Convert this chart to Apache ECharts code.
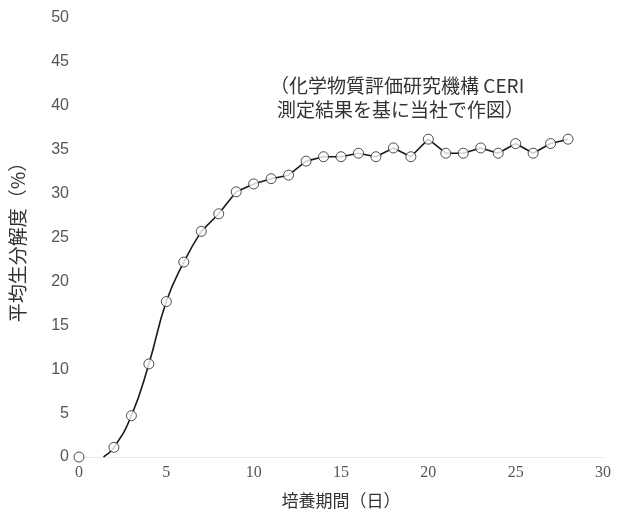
<!DOCTYPE html>
<html><head><meta charset="utf-8">
<script src="https://cdn.jsdelivr.net/npm/echarts@6/dist/echarts.min.js"></script>
<style>html,body{margin:0;padding:0;background:#fff}#c{width:630px;height:515px}</style>
</head><body><div id="c"></div>
<script>
// Data
const days = [0,1,2,3,4,5,6,7,8,9,10,11,12,13,14,15,16,17,18,19,20,21,22,23,24,25,26,27,28];
const measured = [0,null,1.1,4.7,10.6,17.7,22.2,25.7,27.7,30.2,31.1,31.7,32.1,33.7,34.2,34.2,34.6,34.2,35.2,34.2,36.2,34.6,34.6,35.2,34.6,35.7,34.6,35.7,36.2];
// fitted lag-phase curve start (day, %)
const curveStart = [1.4, 0];
const xTicks = [0,5,10,15,20,25,30];
const yTicks = [0,5,10,15,20,25,30,35,40,45,50];
const note = ['（化学物質評価研究機構 CERI', '測定結果を基に当社で作図）'];
const xName = '培養期間（日）';
const yName = '平均生分解度（%）';

const pts = days.map((d,i)=>[d, measured[i]]).filter(p=>p[1]!==null);
const smoothPart = [curveStart].concat(pts.filter(p=>p[0]>=2 && p[0]<=7));
const straightPart = pts.filter(p=>p[0]>=7);

const chart = echarts.init(document.getElementById('c'));
const font = '"Noto Sans CJK JP", "Noto Sans", sans-serif';
chart.setOption({
  animation:false,
  backgroundColor:'#fff',
  grid:{left:78, right:27, top:18, bottom:58, containLabel:false},
  xAxis:{type:'value', min:0, max:30, interval:5,
    axisLine:{show:true, lineStyle:{color:'#e8e8e8', width:1}},
    axisTick:{show:false}, splitLine:{show:false},
    axisLabel:{color:'#555', fontSize:16, fontFamily:'"Liberation Serif", serif', margin:8},
    name:xName, nameLocation:'middle', nameGap:35,
    nameTextStyle:{color:'#333', fontSize:17, fontFamily:font}},
  yAxis:{type:'value', min:0, max:50, interval:5,
    axisLine:{show:false}, axisTick:{show:false}, splitLine:{show:false},
    axisLabel:{color:'#555', fontSize:16, fontFamily:'"Liberation Sans", sans-serif', margin:10},
    name:yName, nameLocation:'middle', nameGap:52, nameRotate:90,
    nameTextStyle:{color:'#333', fontSize:19, fontFamily:font}},
  series:[
    {type:'line', data:smoothPart, smooth:0.5, showSymbol:false, lineStyle:{color:'#1a1a1a', width:1.6}, z:2},
    {type:'line', data:straightPart, smooth:false, showSymbol:false, lineStyle:{color:'#1a1a1a', width:1.6}, z:2},
    {type:'scatter', data:pts, symbol:'circle', symbolSize:10,
      itemStyle:{color:'#fff', borderColor:'#222', borderWidth:1}, z:3}
  ],
  graphic:[
    {type:'text', left:270, top:76, style:{text:note[0], fill:'#333', font:'19px '+font}},
    {type:'text', left:277, top:100, style:{text:note[1], fill:'#333', font:'19px '+font}}
  ]
});
</script></body></html>
